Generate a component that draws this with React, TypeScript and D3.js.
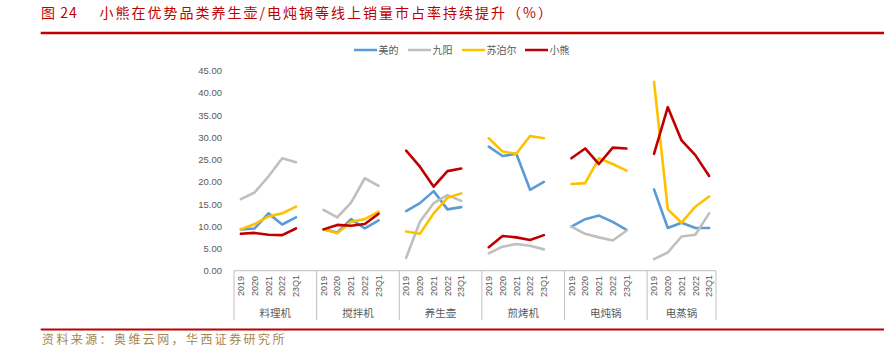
import React from "react";
import * as d3 from "d3";

const groups = ["料理机", "搅拌机", "养生壶", "煎烤机", "电炖锅", "电蒸锅"];
const periods = ["2019", "2020", "2021", "2022", "23Q1"];
const yTicks = [0, 5, 10, 15, 20, 25, 30, 35, 40, 45];

const seriesNames = ["美的", "九阳", "苏泊尔", "小熊"];
const seriesColors = ["#5B9BD5", "#BFBFBF", "#FFC000", "#C00000"];

// values per group, 5 periods each
const midea = [
  [9.3, 9.5, 12.9, 10.4, 12.0],
  [9.3, 8.6, 11.6, 9.5, 11.3],
  [13.4, 15.2, 17.9, 13.8, 14.3],
  [27.9, 25.8, 26.3, 18.2, 20.0],
  [9.9, 11.6, 12.4, 11.0, 9.2],
  [18.3, 9.6, 10.8, 9.6, 9.6],
];
const joyoung = [
  [16.1, 17.6, 21.2, 25.3, 24.4],
  [13.7, 12.0, 15.3, 20.8, 19.1],
  [2.9, 11.0, 15.2, 17.0, 15.7],
  [3.9, 5.4, 6.0, 5.6, 4.8],
  [9.9, 8.3, 7.5, 6.8, 9.0],
  [2.6, 4.1, 7.7, 8.1, 12.9],
];
const supor = [
  [9.3, 10.5, 12.2, 12.9, 14.4],
  [9.3, 8.4, 11.0, 11.6, 13.3],
  [8.8, 8.3, 12.9, 16.4, 17.4],
  [29.8, 26.8, 26.3, 30.3, 29.8],
  [19.5, 19.7, 25.3, 24.0, 22.5],
  [42.5, 13.8, 10.8, 14.4, 16.7],
];
const bear = [
  [8.3, 8.5, 8.1, 8.0, 9.5],
  [9.3, 10.3, 10.1, 10.5, 12.8],
  [27.0, 23.4, 18.9, 22.4, 23.0],
  [5.3, 7.8, 7.5, 6.9, 8.0],
  [25.3, 27.5, 24.0, 27.7, 27.5],
  [26.3, 36.8, 29.3, 26.0, 21.3],
];
const seriesData = [midea, joyoung, supor, bear];

// slots: each group has 5 periods + 1 blank slot (except last)
const slots: string[] = [];
const groupStart: number[] = [];
groups.forEach((g, gi) => {
  groupStart.push(slots.length);
  periods.forEach((p) => slots.push(`${gi}-${p}`));
  if (gi < groups.length - 1) slots.push(`${gi}-blank`);
});

export default function App() {
  const W = 884;
  const H = 356;
  const x = d3.scaleBand<string>().domain(slots).range([234, 716]).padding(0);
  const y = d3.scaleLinear().domain([0, 45]).range([270.7, 70.7]);
  const bw = x.bandwidth();
  const cx = (gi: number, pi: number) => (x(`${gi}-${periods[pi]}`) as number) + bw / 2;
  const line = d3
    .line<[number, number]>()
    .x((d) => d[0])
    .y((d) => d[1]);

  const boundaries = groupStart.map((s) => x(slots[s]) as number).concat([716]);
  const axisY = y(0);

  const legendX = [354, 408, 462, 525];

  return (
    <svg width={W} height={H} style={{ display: "block", position: "absolute", left: 0, top: 0 }}>
      <rect width={W} height={H} fill="#fff" />
      {/* Title */}
      <text x={41} y={18} fontFamily="'Noto Sans CJK SC'" fontSize={14} fill="#C00000" letterSpacing={1}>
        图 24
      </text>
      <text x={99.6} y={18} fontFamily="'Noto Sans CJK SC'" fontSize={14} fill="#C00000" letterSpacing={2}>
        小熊在优势品类养生壶/电炖锅等线上销量市占率持续提升（%）
      </text>
      <line x1={40.7} x2={884} y1={33} y2={33} stroke="#C00000" strokeWidth={2.5} />

      {/* Legend */}
      {seriesNames.map((n, i) => (
        <g key={n}>
          <line x1={legendX[i]} x2={legendX[i] + 23} y1={50} y2={50} stroke={seriesColors[i]} strokeWidth={2.5} />
          <text x={legendX[i] + 24.5} y={53.5} fontFamily="'Noto Sans CJK SC'" fontSize={10} fill="#595959">
            {n}
          </text>
        </g>
      ))}

      {/* Y tick labels */}
      {yTicks.map((t) => (
        <text key={t} x={222} y={y(t) + 3.5} textAnchor="end" fontFamily="'Liberation Sans', Arial" fontSize={9.5} fill="#595959">
          {d3.format(".2f")(t)}
        </text>
      ))}

      {/* X axis */}
      <line x1={234} x2={716} y1={axisY} y2={axisY} stroke="#BFBFBF" strokeWidth={1} />
      {boundaries.map((b, i) => (
        <line key={i} x1={b} x2={b} y1={axisY} y2={320} stroke="#BFBFBF" strokeWidth={1} />
      ))}
      {groups.map((g, gi) =>
        periods.map((p, pi) => (
          <text
            key={`${gi}-${p}`}
            transform={`translate(${cx(gi, pi) + 3.2},${286}) rotate(-90)`}
            textAnchor="middle"
            fontFamily="'Liberation Sans', Arial"
            fontSize={9}
            fill="#595959"
          >
            {p}
          </text>
        ))
      )}
      {groups.map((g, gi) => (
        <text
          key={g}
          x={(boundaries[gi] + boundaries[gi + 1]) / 2}
          y={316.5}
          textAnchor="middle"
          fontFamily="'Noto Sans CJK SC'"
          fontSize={10.5}
          fill="#595959"
        >
          {g}
        </text>
      ))}

      {/* Lines */}
      {seriesData.map((sd, si) =>
        sd.map((vals, gi) => (
          <path
            key={`${si}-${gi}`}
            d={line(vals.map((v, pi) => [cx(gi, pi), y(v)] as [number, number])) as string}
            fill="none"
            stroke={seriesColors[si]}
            strokeWidth={2.6}
            strokeLinejoin="round"
            strokeLinecap="round"
          />
        ))
      )}

      {/* Bottom rule & source */}
      <line x1={40.7} x2={884} y1={329.5} y2={329.5} stroke="#C00000" strokeWidth={2} />
      <text x={42} y={344} fontFamily="'Noto Sans CJK SC'" fontSize={12} fill="#A58451" letterSpacing={2.4}>
        资料来源：奥维云网，华西证券研究所
      </text>
    </svg>
  );
}
